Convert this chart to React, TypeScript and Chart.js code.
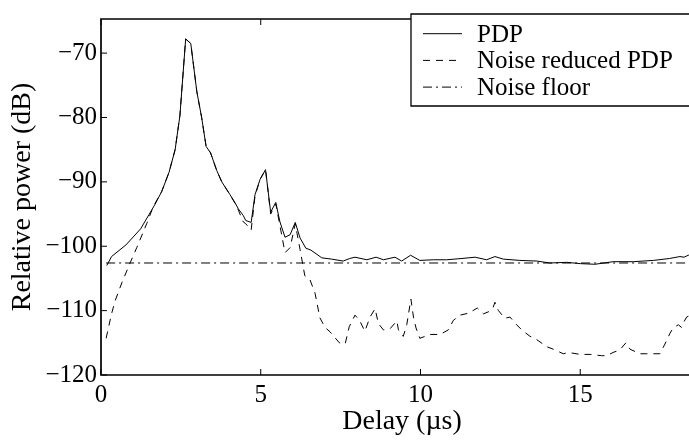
import React, { useEffect, useRef } from "react";
import { Chart, registerables } from "chart.js";

Chart.register(...registerables);

// ---- data ----
const pdpDelay = [
  0.18, 0.33, 0.78, 1.24, 1.69, 1.9, 2.13, 2.32, 2.47, 2.65, 2.81, 3.0, 3.15, 3.29, 3.43, 3.62, 3.78,
  4.04, 4.19, 4.3, 4.45, 4.53, 4.7, 4.82, 4.98, 5.15, 5.31, 5.47, 5.6, 5.76, 5.92, 6.08, 6.23, 6.41,
  6.57, 6.91, 7.22, 7.58, 7.79, 7.95, 8.32, 8.61, 8.84, 9.2, 9.41, 9.69, 9.98, 10.4, 10.82, 11.3,
  11.71, 12.07, 12.33, 12.59, 13.11, 13.64, 14.05, 14.58, 15.0, 15.46, 16.03, 16.66, 17.29, 17.8,
  18.12, 18.25, 18.38, 18.5,
];
const pdpPower = [
  -103.0, -101.6, -99.8, -97.3, -93.5, -91.5, -88.5, -85.0, -79.7, -67.8, -68.5, -76.0, -80.0, -84.5,
  -85.5, -88.2, -90.0, -92.0, -93.2, -94.2, -95.2, -96.0, -96.3, -92.0, -89.6, -88.1, -94.7, -93.2,
  -96.2, -98.6, -98.2, -96.3, -98.7, -100.3, -100.6, -101.8, -102.0, -102.3, -101.9, -101.7, -102.1,
  -101.7, -102.1, -101.7, -102.3, -101.4, -102.2, -102.1, -102.1, -101.9, -101.7, -102.1, -101.6,
  -102.0, -102.2, -102.3, -102.6, -102.5, -102.7, -102.8, -102.4, -102.4, -102.2, -101.9, -101.6,
  -101.7, -101.4, -101.3,
];

const nrDelay = [
  0.16, 0.33, 0.44, 0.65, 0.91, 1.12, 1.43, 1.64, 1.9, 2.13, 2.32, 2.47, 2.65, 2.81, 3.0, 3.15, 3.29,
  3.43, 3.62, 3.78, 4.04, 4.19, 4.3, 4.45, 4.53, 4.7, 4.82, 4.98, 5.15, 5.31, 5.47, 5.6, 5.76, 5.92,
  6.08, 6.23, 6.38, 6.54, 6.7, 6.85, 7.01, 7.17, 7.46, 7.64, 7.77, 7.95, 8.09, 8.26, 8.42, 8.58, 8.68,
  8.84, 9.05, 9.26, 9.31, 9.46, 9.57, 9.7, 9.78, 9.86, 9.98, 10.3, 10.61, 10.87, 11.03, 11.24, 11.5,
  11.78, 11.97, 12.12, 12.26, 12.33, 12.44, 12.64, 12.8, 13.01, 13.17, 13.43, 13.58, 13.95, 14.16,
  14.47, 14.63, 15.0, 15.31, 15.67, 15.83, 16.03, 16.24, 16.43, 16.56, 16.87, 17.08, 17.49, 17.65,
  17.81, 17.91, 18.07, 18.17, 18.25, 18.33, 18.5,
];
const nrPower = [
  -114.3, -110.5, -108.5, -105.7, -102.6, -100.2, -96.5, -93.8, -91.5, -88.5, -85.0, -79.7, -67.8,
  -68.5, -76.0, -80.0, -84.5, -85.5, -88.2, -90.0, -92.0, -93.3, -94.4, -96.2, -96.5, -97.5, -92.2,
  -89.6, -88.1, -95.0, -93.4, -96.8, -101.0, -100.2, -96.5, -100.5, -104.6, -105.2, -107.3, -111.1,
  -112.6, -113.3, -115.0, -115.2, -112.5, -110.7, -111.5, -113.2, -111.0, -109.7, -112.0, -113.0,
  -112.8, -111.6, -113.0, -114.0, -112.2, -108.2, -111.0, -112.7, -114.3, -113.7, -113.7, -113.0,
  -111.5, -110.7, -110.4, -109.6, -110.5, -110.2, -109.7, -108.7, -110.0, -111.2, -111.0, -112.2,
  -113.0, -114.0, -114.3, -115.6, -116.0, -116.7, -116.5, -116.8, -116.8, -117.0, -117.0, -116.5,
  -116.1, -115.0, -116.0, -116.7, -116.7, -116.7, -115.2, -113.5, -112.7, -112.2, -112.6, -111.7,
  -111.0, -110.6,
];

const floorDelay = [0.16, 18.5];
const floorPower = [-102.6, -102.6];

const seriesLabels = ["PDP", "Noise reduced PDP", "Noise floor"];
const xTicks = [0, 5, 10, 15];
const yTicks = [-120, -110, -100, -90, -80, -70];
const xTitle = "Delay (\u00b5s)";
const yTitle = "Relative power (dB)";

const FONT = "'Liberation Serif', 'Times New Roman', serif";

function pts(xs: number[], ys: number[]) {
  return xs.map((x, i) => ({ x, y: ys[i] }));
}

const framePlugin = {
  id: "frame",
  afterDatasetsDraw(chart: any) {
    const { ctx, chartArea: a, scales } = chart;
    ctx.save();
    ctx.strokeStyle = "#000";
    ctx.setLineDash([]);
    ctx.lineWidth = 1;
    const tl = 6;
    xTicks.forEach((v) => {
      const px = scales.x.getPixelForValue(v);
      ctx.beginPath();
      ctx.moveTo(px, a.bottom);
      ctx.lineTo(px, a.bottom - tl);
      ctx.moveTo(px, a.top);
      ctx.lineTo(px, a.top + tl);
      ctx.stroke();
    });
    yTicks.forEach((v) => {
      const py = scales.y.getPixelForValue(v);
      ctx.beginPath();
      ctx.moveTo(a.left, py);
      ctx.lineTo(a.left + tl, py);
      ctx.stroke();
    });
    // frame: left, top, bottom (right side lies beyond the visible crop)
    ctx.lineWidth = 1.7;
    ctx.beginPath();
    ctx.moveTo(a.right + 20, a.top);
    ctx.lineTo(a.left, a.top);
    ctx.lineTo(a.left, a.bottom);
    ctx.lineTo(a.right + 20, a.bottom);
    ctx.stroke();

    // legend box (open to the right, like the cropped reference)
    const lx = 411, ly = 14, lh = 92, lr = 900;
    ctx.fillStyle = "#fff";
    ctx.fillRect(lx, ly, lr - lx, lh);
    ctx.lineWidth = 1.3;
    ctx.beginPath();
    ctx.moveTo(lr, ly);
    ctx.lineTo(lx, ly);
    ctx.lineTo(lx, ly + lh);
    ctx.lineTo(lr, ly + lh);
    ctx.stroke();
    ctx.font = `25px ${FONT}`;
    ctx.textBaseline = "alphabetic";
    ctx.textAlign = "left";
    ctx.fillStyle = "#000";
    chart.data.datasets.forEach((ds: any, i: number) => {
      const baseY = 41.7 + i * 26.7;
      const lineY = baseY - 8;
      ctx.lineWidth = 1;
      ctx.setLineDash(ds.borderDash || []);
      ctx.beginPath();
      ctx.moveTo(423, lineY);
      ctx.lineTo(462, lineY);
      ctx.stroke();
      ctx.setLineDash([]);
      ctx.fillText(ds.label, 477, baseY);
    });
    ctx.restore();
  },
};

export default function App() {
  const ref = useRef<HTMLCanvasElement | null>(null);
  useEffect(() => {
    if (!ref.current) return;
    const chart = new Chart(ref.current, {
      type: "line",
      data: {
        datasets: [
          {
            label: seriesLabels[0],
            data: pts(pdpDelay, pdpPower),
            borderColor: "#000",
            borderWidth: 1,
            pointRadius: 0,
            tension: 0,
            fill: false,
          },
          {
            label: seriesLabels[1],
            data: pts(nrDelay, nrPower),
            borderColor: "#000",
            borderWidth: 1,
            borderDash: [7, 6],
            pointRadius: 0,
            tension: 0,
            fill: false,
          },
          {
            label: seriesLabels[2],
            data: pts(floorDelay, floorPower),
            borderColor: "#000",
            borderWidth: 1,
            borderDash: [9, 4, 2, 4],
            pointRadius: 0,
            tension: 0,
            fill: false,
          },
        ],
      },
      options: {
        responsive: false,
        animation: false,
        devicePixelRatio: 1,
        layout: { padding: { top: 8, left: 0, right: 0, bottom: 0 } },
        plugins: { legend: { display: false }, tooltip: { enabled: false } },
        scales: {
          x: {
            type: "linear",
            min: 0,
            max: 18.404,
            grid: { display: false, drawTicks: false },
            border: { display: false },
            ticks: {
              stepSize: 5,
              includeBounds: false,
              color: "#000",
              padding: 5,
              maxRotation: 0,
              font: { family: FONT, size: 25, lineHeight: 1.2 },
            },
            title: {
              display: true,
              text: "  " + xTitle,
              color: "#000",
              padding: { top: 0, bottom: 4 },
              font: { family: FONT, size: 28, lineHeight: 1.2 },
            },
            afterFit: (s: any) => {
              s.height = 67;
            },
          },
          y: {
            type: "linear",
            min: -120,
            max: -64.7,
            grid: { display: false, drawTicks: false },
            border: { display: false },
            ticks: {
              stepSize: 10,
              includeBounds: false,
              color: "#000",
              padding: 4,
              font: { family: FONT, size: 25, lineHeight: 1.2 },
              callback: (v: any) => (Number(v) < 0 ? "\u2212" + Math.abs(Number(v)) : String(v)),
            },
            title: {
              display: true,
              text: yTitle,
              color: "#000",
              padding: { top: 6, bottom: 0 },
              font: { family: FONT, size: 28, lineHeight: 1.2 },
            },
            afterFit: (s: any) => {
              s.width = 101;
            },
          },
        },
      },
      plugins: [framePlugin],
    } as any);
    return () => chart.destroy();
  }, []);

  return (
    <div
      style={{
        position: "fixed",
        left: 0,
        top: 0,
        width: 689,
        height: 442,
        overflow: "hidden",
        background: "#fff",
      }}
    >
      <canvas ref={ref} width={689} height={442} style={{ display: "block" }} />
    </div>
  );
}
